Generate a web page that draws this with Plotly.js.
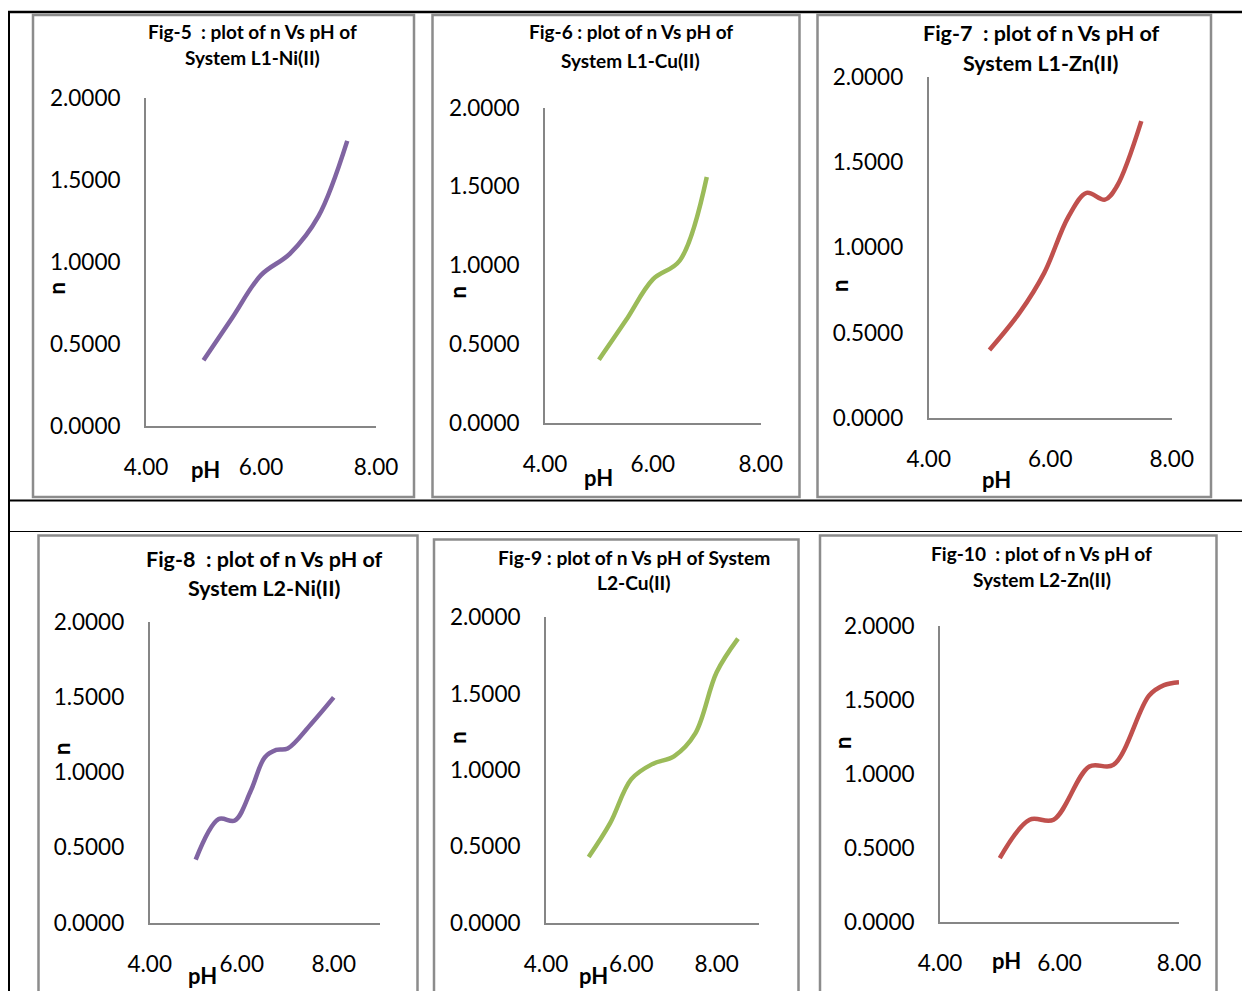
<!DOCTYPE html>
<html>
<head>
<meta charset="utf-8">
<script src="https://cdn.plot.ly/plotly-3.0.1.min.js"></script>
<style>
html,body{margin:0;padding:0;background:#ffffff;}
#chart{width:1242px;height:991px;}
</style>
</head>
<body>
<div id="chart"></div>
<script>
// ---- data ----
const pH_L1Ni = [5.0, 5.5, 6.0, 6.5, 7.0, 7.5];
const n_L1Ni  = [0.40, 0.66, 0.92, 1.05, 1.28, 1.74];

const pH_L1Cu = [5.0, 5.5, 6.0, 6.5, 7.0];
const n_L1Cu  = [0.40, 0.65, 0.91, 1.03, 1.56];

const pH_L1Zn = [5.0, 5.5, 5.9, 6.3, 6.6, 6.9, 7.1, 7.5];
const n_L1Zn  = [0.40, 0.62, 0.85, 1.18, 1.32, 1.28, 1.36, 1.74];

const pH_L2Ni = [5.0, 5.5, 5.85, 6.2, 6.5, 6.75, 7.0, 7.5, 8.0];
const n_L2Ni  = [0.42, 0.69, 0.68, 0.88, 1.10, 1.15, 1.16, 1.32, 1.50];

const pH_L2Cu = [5.0, 5.5, 6.0, 6.5, 7.0, 7.5, 8.0, 8.5];
const n_L2Cu  = [0.43, 0.65, 0.94, 1.04, 1.09, 1.24, 1.64, 1.86];

const pH_L2Zn = [5.0, 5.5, 5.9, 6.5, 6.9, 7.5, 7.75, 8.0];
const n_L2Zn  = [0.43, 0.69, 0.69, 1.05, 1.06, 1.53, 1.60, 1.62];

const yTickVals = [0, 0.5, 1.0, 1.5, 2.0];
const xTickVals = [4, 6, 8];

const titleLine1 = [
  "Fig-5  : plot of n Vs pH of",
  "Fig-6 : plot of n Vs pH of",
  "Fig-7  : plot of n Vs pH of",
  "Fig-8  : plot of n Vs pH of",
  "Fig-9 : plot of n Vs pH of System",
  "Fig-10  : plot of n Vs pH of"
];
const titleLine2 = [
  "System L1-Ni(II)",
  "System L1-Cu(II)",
  "System L1-Zn(II)",
  "System L2-Ni(II)",
  "L2-Cu(II)",
  "System L2-Zn(II)"
];
const xLabel = "pH";
const yLabel = "n";

// ---- presentation ----
const W = 1242, H = 991;
const fx = p => p / W;
const fy = p => 1 - p / H;
const FONT = "Lato, 'Open Sans', sans-serif";
const PURPLE = "#8064A2", GREEN = "#9BBB59", RED = "#C0504D";

const series = [
  {x: pH_L1Ni, y: n_L1Ni, color: PURPLE},
  {x: pH_L1Cu, y: n_L1Cu, color: GREEN},
  {x: pH_L1Zn, y: n_L1Zn, color: RED},
  {x: pH_L2Ni, y: n_L2Ni, color: PURPLE},
  {x: pH_L2Cu, y: n_L2Cu, color: GREEN},
  {x: pH_L2Zn, y: n_L2Zn, color: RED}
];

// panel geometry in pixels
const panels = [
  {plot:[146,98.3,376,425.7],   xmax:8, frame:[33,15,414,497],
   t:[252.5,32,57], tsize:19, ph:[206,470], n:[55.5,289]},
  {plot:[545,107.7,760.7,422.7], xmax:8, frame:[432.5,15,799.5,497],
   t:[630.5,32,61], tsize:19, ph:[598,478], n:[456.5,293]},
  {plot:[928.7,76.7,1171.7,418.3], xmax:8, frame:[817.5,15,1211,497],
   t:[1041,33,63], tsize:21.5, ph:[996,479], n:[839.5,286.5]},
  {plot:[149.7,622.3,379.7,922.7], xmax:9, frame:[38.5,535.5,417.5,1000],
   t:[264.5,559,588], tsize:21.5, ph:[202.5,975], n:[61,749]},
  {plot:[546,617.3,759.3,922.7], xmax:9, frame:[434,539.5,798.5,1000],
   t:[634,557,582.5], tsize:19.2, ph:[593,975], n:[456.7,738]},
  {plot:[940,626,1179,921.7], xmax:8, frame:[820,535.5,1216.5,1000],
   t:[1041.5,553,579], tsize:19.1, ph:[1006.7,960.5], n:[842,743]}
];

const data = [];
const layout = {
  width: W, height: H,
  margin: {l:0, r:0, t:0, b:0},
  paper_bgcolor: "#ffffff",
  plot_bgcolor: "rgba(0,0,0,0)",
  showlegend: false,
  font: {family: FONT, color: "#000000"},
  shapes: [],
  annotations: []
};

panels.forEach((p, i) => {
  const sx = i === 0 ? "" : String(i + 1);
  const s = series[i];
  data.push({
    type: "scatter", mode: "lines",
    x: s.x, y: s.y,
    xaxis: "x" + sx, yaxis: "y" + sx,
    line: {color: s.color, width: 4.5, shape: "spline", smoothing: 1},
    hoverinfo: "x+y"
  });
  layout["xaxis" + sx] = {
    domain: [fx(p.plot[0]), fx(p.plot[2])],
    range: [4, p.xmax],
    anchor: "y" + sx,
    tickvals: xTickVals, tickformat: ".2f",
    showline: true, linecolor: "#868686", linewidth: 2,
    showgrid: false, zeroline: false, ticks: "",
    ticklabelstandoff: 20,
    tickfont: {family: FONT, size: 22.5, color: "#000000"},
    fixedrange: true
  };
  layout["yaxis" + sx] = {
    domain: [fy(p.plot[3]), fy(p.plot[1])],
    range: [0, 2],
    anchor: "x" + sx,
    tickvals: yTickVals, tickformat: ".4f",
    showline: true, linecolor: "#868686", linewidth: 2,
    showgrid: false, zeroline: false, ticks: "",
    ticklabelstandoff: 19,
    tickfont: {family: FONT, size: 22.5, color: "#000000"},
    fixedrange: true
  };
  // chart frame
  layout.shapes.push({
    type: "rect", xref: "paper", yref: "paper", layer: "below",
    x0: fx(p.frame[0]), x1: fx(p.frame[2]), y0: fy(p.frame[3]), y1: fy(p.frame[1]),
    line: {color: "#8c8c8c", width: 2.5}, fillcolor: "rgba(0,0,0,0)"
  });
  // titles
  [[titleLine1[i], p.t[1]], [titleLine2[i], p.t[2]]].forEach(([txt, yy]) => {
    layout.annotations.push({
      xref: "paper", yref: "paper", x: fx(p.t[0]), y: fy(yy),
      xanchor: "center", yanchor: "middle", showarrow: false,
      text: "<b>" + txt + "</b>",
      font: {family: FONT, size: p.tsize, color: "#000000"}
    });
  });
  // axis titles
  layout.annotations.push({
    xref: "paper", yref: "paper", x: fx(p.ph[0]), y: fy(p.ph[1]),
    xanchor: "center", yanchor: "middle", showarrow: false,
    text: "<b>" + xLabel + "</b>",
    font: {family: FONT, size: 22, color: "#000000"}
  });
  layout.annotations.push({
    xref: "paper", yref: "paper", x: fx(p.n[0]), y: fy(p.n[1]),
    xanchor: "center", yanchor: "middle", showarrow: false, textangle: -90,
    text: "<b>" + yLabel + "</b>",
    font: {family: FONT, size: 22, color: "#000000"}
  });
});

// table lines
const tableLines = [
  {x0: 8, y0: 12, x1: 1242, y1: 12, w: 2.5},
  {x0: 9, y0: 11, x1: 9, y1: 991, w: 2},
  {x0: 8, y0: 500.5, x1: 1242, y1: 500.5, w: 2},
  {x0: 8, y0: 531.5, x1: 1242, y1: 531.5, w: 1.2}
];
tableLines.forEach(l => layout.shapes.push({
  type: "line", xref: "paper", yref: "paper",
  x0: fx(l.x0), x1: fx(l.x1), y0: fy(l.y0), y1: fy(l.y1),
  line: {color: "#000000", width: l.w}
}));

Plotly.newPlot("chart", data, layout, {staticPlot: true, displayModeBar: false});
</script>
</body>
</html>
